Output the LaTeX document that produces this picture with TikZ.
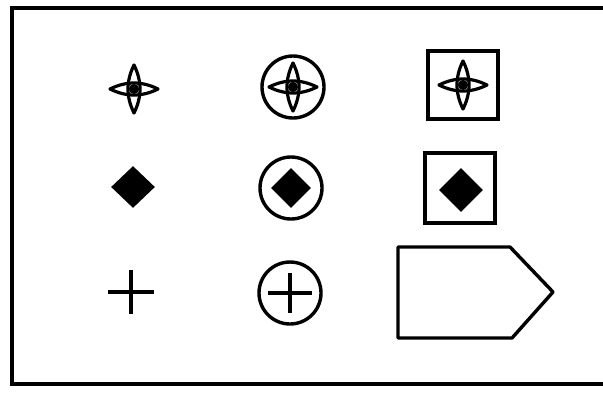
\documentclass[tikz,border=0pt]{standalone}
\usetikzlibrary{shapes.geometric}
\begin{document}
\begin{tikzpicture}[x=0.5pt,y=-0.5pt,
  stroke/.style={line width=1.7pt,black},
  ring/.style={circle,draw,line width=1.7pt,minimum size=31pt,inner sep=0pt},
  boxed/.style={rectangle,draw,line width=1.7pt,minimum width=35pt,minimum height=34pt,inner sep=0pt},
  gem/.style={diamond,fill=black,inner sep=0pt,minimum width=22pt,minimum height=21pt},
  petal/.style={line width=1.6pt,black,line join=round}]
\useasboundingbox (0,0) rectangle (603,392);
\tikzset{star4/.pic={
  \draw[petal] (-24,0) .. controls (-8,-8) and (8,-8) .. (24,0) .. controls (8,8) and (-8,8) .. cycle;
  \draw[petal] (0,-24) .. controls (-8,-8) and (-8,8) .. (0,24) .. controls (8,8) and (8,-8) .. cycle;
  \fill (0,0) circle (5);
}}
% frame (left, top, bottom)
\draw[stroke,line width=1.6pt] (603,8) -- (12,8) -- (12,384) -- (603,384);
% row 1
\coordinate (s1) at (134,89);
\pic at (s1) {star4};
\node[ring] (c1) at (293,87) {};
\pic at (c1.center) {star4};
\node[boxed] (b1) at (463,85) {};
\pic at (b1.center) {star4};
% row 2
\node[gem] (d1) at (133,187) {};
\node[ring] (c2) at (291,188) {};
\node[gem,minimum width=20pt,minimum height=20pt] (d2) at (c2.center) {};
\node[boxed,minimum height=35pt] (b2) at (460,188) {};
\node[gem,minimum width=22pt,minimum height=22pt] (d3) at (461,190) {};
% row 3
\coordinate (p1) at (131,292);
\draw[stroke] ([xshift=-11.5pt]p1) -- ([xshift=11.5pt]p1);
\draw[stroke] ([yshift=11pt]p1) -- ([yshift=-11pt]p1);
\node[ring] (c3) at (290,293) {};
\draw[stroke] ([xshift=-11pt]c3.center) -- ([xshift=11pt]c3.center);
\draw[stroke] ([yshift=10pt]c3.center) -- ([yshift=-10pt]c3.center);
% pentagon
\draw[stroke,line join=round] (398,247) -- (510,247) -- (553,292) -- (512,338) -- (398,338) -- cycle;
\end{tikzpicture}
\end{document}
